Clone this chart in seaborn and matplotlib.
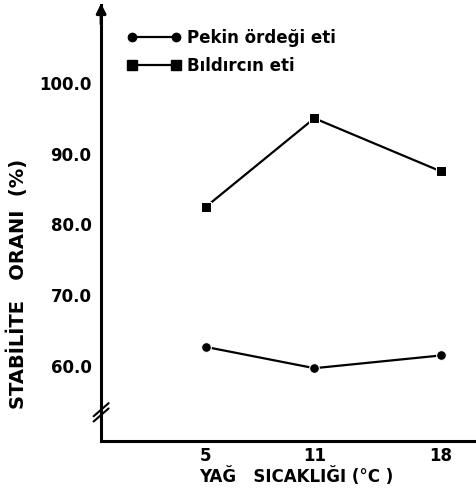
import matplotlib
matplotlib.use("Agg")
import matplotlib.pyplot as plt
import seaborn as sns
import pandas as pd
from matplotlib.lines import Line2D

temps = [5, 11, 18]
pekin = [62.7, 59.7, 61.5]
bildircin = [82.5, 95.0, 87.5]
series_names = ["Pekin ördeği eti", "Bıldırcın eti"]
yticks = [60, 70, 80, 90, 100]
ytick_labels = ["60.0", "70.0", "80.0", "90.0", "100.0"]

df = pd.DataFrame({
    "temp": temps * 2,
    "val": pekin + bildircin,
    "series": [series_names[0]] * 3 + [series_names[1]] * 3,
})

sns.set_style("white")
plt.rcParams["font.family"] = ["DejaVu Sans"]
plt.rcParams["text.color"] = "black"
plt.rcParams["axes.labelcolor"] = "black"
plt.rcParams["xtick.color"] = "black"
plt.rcParams["ytick.color"] = "black"

fig = plt.figure(figsize=(4.77, 4.99), dpi=100)
ax = fig.add_axes([0.212, 0.116, 0.788, 0.874])

sns.lineplot(data=df, x="temp", y="val", hue="series", style="series",
             markers={series_names[0]: "o", series_names[1]: "s"},
             dashes=False, palette={series_names[0]: "black", series_names[1]: "black"},
             markersize=7, linewidth=1.6, legend=False, ax=ax)

ax.set_xlim(-0.8, 20)
ax.set_ylim(49.4, 111)
ax.set_xticks(temps)
ax.set_xticklabels([str(t) for t in temps], fontsize=12, fontweight="bold", color="black")
ax.set_yticks(yticks)
ax.set_yticklabels(ytick_labels, fontsize=12, fontweight="bold", color="black")
ax.tick_params(axis="y", direction="out", length=4, width=1.5, pad=3, colors="black")
ax.tick_params(axis="x", length=0, pad=4, colors="black")

for s in ["top", "right"]:
    ax.spines[s].set_visible(False)
for s in ["left", "bottom"]:
    ax.spines[s].set_linewidth(2.2)
    ax.spines[s].set_color("black")

ax.set_xlabel("YAĞ   SICAKLIĞI (°C )", fontsize=12, fontweight="bold", color="black")
ax.set_ylabel("STABİLİTE   ORANI  (%)", fontsize=14, fontweight="bold", color="black")
ax.xaxis.set_label_coords(0.52, -0.06)
ax.yaxis.set_label_coords(-0.195, 0.36)

# arrow at top of y axis
ax.annotate("", xy=(0, 1.01), xytext=(0, 0.95), xycoords="axes fraction",
            arrowprops=dict(arrowstyle="-|>", color="black", lw=2.2, mutation_scale=14),
            annotation_clip=False)

# axis break marks
for dy in (0.0, 0.012):
    ax.plot([-0.02, 0.02], [0.045 + dy, 0.075 + dy], transform=ax.transAxes,
            color="black", lw=1.5, clip_on=False)

handles = [
    Line2D([0], [0], color="black", marker="o", markersize=6, lw=1.6),
    Line2D([0], [0], color="black", marker="s", markersize=7, lw=1.6),
]
leg = ax.legend(handles, series_names, loc="upper left", bbox_to_anchor=(0.03, 0.98),
                frameon=False, numpoints=2, handlelength=3.2, handletextpad=0.4,
                labelspacing=0.6, prop={"size": 12, "weight": "bold"})
for t in leg.get_texts():
    t.set_color("black")

fig.savefig("out.png", dpi=100)
